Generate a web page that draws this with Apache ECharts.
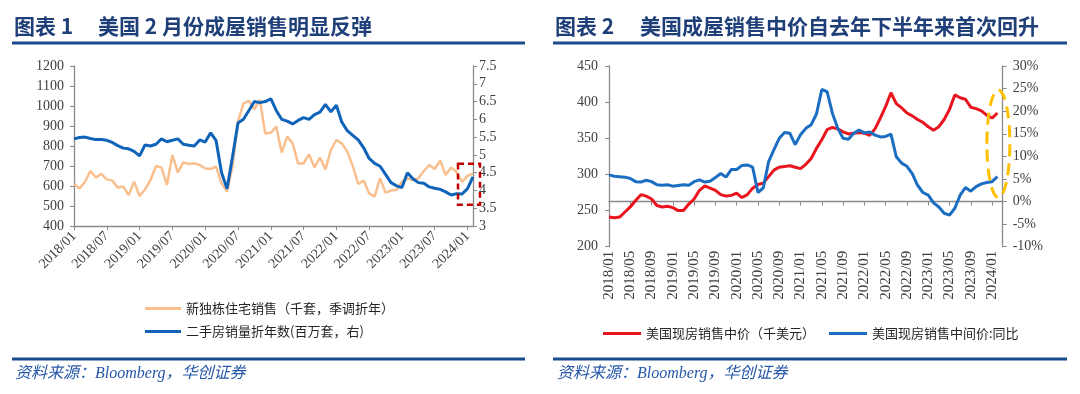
<!DOCTYPE html>
<html><head><meta charset="utf-8">
<script src="https://cdn.jsdelivr.net/npm/echarts@6/dist/echarts.min.js"></script>
<style>html,body{margin:0;padding:0;background:#fff}#c{width:1080px;height:394px}</style>
</head><body><div id="c"></div>
<script>
// ---------- Chart 1 data ----------
const months1 = [
'2018/01','2018/02','2018/03','2018/04','2018/05','2018/06','2018/07','2018/08','2018/09','2018/10','2018/11','2018/12',
'2019/01','2019/02','2019/03','2019/04','2019/05','2019/06','2019/07','2019/08','2019/09','2019/10','2019/11','2019/12',
'2020/01','2020/02','2020/03','2020/04','2020/05','2020/06','2020/07','2020/08','2020/09','2020/10','2020/11','2020/12',
'2021/01','2021/02','2021/03','2021/04','2021/05','2021/06','2021/07','2021/08','2021/09','2021/10','2021/11','2021/12',
'2022/01','2022/02','2022/03','2022/04','2022/05','2022/06','2022/07','2022/08','2022/09','2022/10','2022/11','2022/12',
'2023/01','2023/02','2023/03','2023/04','2023/05','2023/06','2023/07','2023/08','2023/09','2023/10','2023/11','2023/12',
'2024/01','2024/02'];
const newHomeSales = [610,588,620,675,643,660,633,627,592,597,555,622,
550,583,630,700,693,605,755,668,718,710,713,705,
688,685,697,613,572,697,922,1013,1025,985,1030,862,
866,897,767,847,813,713,713,758,693,742,683,780,
830,813,772,700,610,627,563,547,638,567,577,580,
622,638,630,638,675,705,685,728,655,692,670,620,
652,662];
const existingSales = [5.45,5.49,5.5,5.46,5.43,5.43,5.41,5.35,5.26,5.19,5.17,5.1,
4.97,5.28,5.25,5.3,5.45,5.37,5.41,5.45,5.3,5.27,5.25,5.42,
5.36,5.62,5.4,4.5,4.05,4.95,5.9,6.0,6.25,6.5,6.47,6.5,
6.58,6.25,6.0,5.95,5.87,5.97,6.05,6.0,6.13,6.2,6.42,6.21,
6.4,5.92,5.68,5.55,5.42,5.2,4.9,4.76,4.68,4.45,4.22,4.13,
4.08,4.5,4.33,4.22,4.2,4.1,4.06,4.03,3.96,3.87,3.91,3.9,
4.05,4.38];
const leftTicks1 = {min:400, max:1200, interval:100};
const rightTicks1 = {min:3, max:7.5, interval:0.5};

// ---------- Chart 2 data ----------
const months2 = months1.concat(['2024/03']);
const medianPrice = [241,240,241,248,255,264,272,270,266,257,255,256,
254,250,250,259,266,278,284,281,278,272,270,271,
274,268,272,281,286,288,297,306,310,311,312,310,
308,314,322,336,348,362,365,363,359,356,357,358,
357,354,363,378,394,413,398,392,385,381,376,372,
366,361,366,376,390,410,406,404,393,391,388,382,
378,385];
const medianPriceYoY = [5.9,5.6,5.5,5.4,5.1,4.4,4.3,4.7,4.4,3.7,3.6,3.7,
3.4,3.55,3.7,3.6,4.4,4.8,4.3,4.5,5.3,6.2,5.4,7.1,
7.1,8.0,8.1,7.6,2.0,3.0,8.8,11.5,14.0,15.3,15.1,12.6,
14.8,16.2,17.0,19.4,24.8,24.3,19.5,16.2,14.0,13.8,15.1,15.8,
15.2,15.4,14.7,14.3,14.4,14.9,9.9,8.5,7.8,6.2,3.6,2.0,
1.4,-0.3,-1.2,-2.6,-3.0,-1.5,1.4,3.1,2.3,3.3,3.9,4.2,
4.4,5.5];
const leftTicks2 = {min:200, max:450, interval:50};
const rightTicks2 = {min:-10, max:30, interval:5};

const name1a = '新独栋住宅销售（千套，季调折年）';
const name1b = '二手房销量折年数(百万套，右)';
const name2a = '美国现房销售中价（千美元）';
const name2b = '美国现房销售中间价:同比';

const numFont = 'Liberation Serif';
const cjkFont = 'Noto Sans CJK SC';
const axisGray = '#8a8a8a';
const labelColor = '#404040';
const navy = '#1F3F78';
const ruleBlue = '#1B4A8C';

function yAx(gridIndex, pos, t, fmt, margin) {
  return {
    type:'value', gridIndex, position:pos, min:t.min, max:t.max, interval:t.interval,
    axisLine:{show:true, lineStyle:{color:axisGray, width:1.3}},
    axisTick:{show:true, length:4, lineStyle:{color:axisGray}},
    splitLine:{show:false},
    axisLabel:{color:labelColor, fontFamily:numFont, fontSize:14, margin, formatter:fmt}
  };
}

const chart = echarts.init(document.getElementById('c'), null, {renderer:'canvas'});
const option = {
  animation:false,
  backgroundColor:'#ffffff',
  textStyle:{fontFamily:cjkFont},
  grid:[
    {left:74, right:1080-473, top:66, bottom:394-226, containLabel:false},
    {left:609, right:1080-1002.7, top:66, bottom:394-246.7, containLabel:false}
  ],
  xAxis:[
    {type:'category', gridIndex:0, data:months1, boundaryGap:false,
     axisLine:{lineStyle:{color:axisGray, width:1.3}},
     axisTick:{length:4, interval:(i)=>i%6===0, lineStyle:{color:axisGray}},
     axisLabel:{interval:(i)=>i%6===0, rotate:45, color:labelColor, fontFamily:numFont, fontSize:14, margin:8},
     splitLine:{show:false}},
    {type:'category', gridIndex:1, data:months2, boundaryGap:false,
     axisLine:{lineStyle:{color:axisGray, width:1.3}},
     axisTick:{length:4, interval:(i)=>i%4===0, lineStyle:{color:axisGray}},
     axisLabel:{interval:(i)=>i%4===0, rotate:90, color:labelColor, fontFamily:numFont, fontSize:15, margin:4},
     splitLine:{show:false}}
  ],
  yAxis:[
    yAx(0,'left',leftTicks1,(v)=>String(v),10),
    yAx(0,'right',rightTicks1,(v)=>String(v),6),
    yAx(1,'left',leftTicks2,(v)=>String(v),11),
    yAx(1,'right',rightTicks2,(v)=>v+'%',10)
  ],
  legend:[
    {orient:'vertical', left:140, top:297, itemWidth:36, itemHeight:3, itemGap:10, icon:'rect',
     data:[name1a,name1b], textStyle:{fontSize:13, color:'#262626', fontFamily:cjkFont}},
    {orient:'horizontal', left:598, top:322, itemWidth:38, itemHeight:3, itemGap:14, icon:'rect',
     data:[name2a,name2b], textStyle:{fontSize:13, color:'#262626', fontFamily:cjkFont}}
  ],
  series:[
    {name:name1a, type:'line', xAxisIndex:0, yAxisIndex:0, data:newHomeSales, symbol:'none',
     lineStyle:{color:'#F9BF8E', width:2.5}, itemStyle:{color:'#F9BF8E'}},
    {name:name1b, type:'line', xAxisIndex:0, yAxisIndex:1, data:existingSales, symbol:'none',
     lineStyle:{color:'#0F63B8', width:3}, itemStyle:{color:'#0F63B8'}},
    {name:name2a, type:'line', xAxisIndex:1, yAxisIndex:2, data:medianPrice, symbol:'none',
     lineStyle:{color:'#E8151E', width:3}, itemStyle:{color:'#E8151E'}},
    {name:name2b, type:'line', xAxisIndex:1, yAxisIndex:3, data:medianPriceYoY, symbol:'none',
     lineStyle:{color:'#1B6DC2', width:3}, itemStyle:{color:'#1B6DC2'}}
  ]
};
chart.setOption(option);

// annotation shapes placed via the axes
const lastX1 = chart.convertToPixel({xAxisIndex:0}, months1[months1.length-1]);
const boxTop = chart.convertToPixel({yAxisIndex:1}, 4.75);
const boxBot = chart.convertToPixel({yAxisIndex:1}, 3.6);
const lastX2 = chart.convertToPixel({xAxisIndex:1}, months1[months1.length-1]);
const ellTop = chart.convertToPixel({yAxisIndex:3}, 24.7);
const ellBot = chart.convertToPixel({yAxisIndex:3}, 0.9);

const titleStyle = (t,x)=>({type:'text', left:x, top:16, style:{text:t, fill:navy, font:'bold 21px "Noto Sans CJK SC"'}});
const srcStyle = (x)=>({type:'text', left:x, top:366, style:{text:'资料来源：Bloomberg，华创证券', fill:'#2657A8', font:'italic 16px "Liberation Serif", "Noto Sans CJK SC"'}});

chart.setOption({graphic:[
  titleStyle('图表 1', 14), titleStyle('美国 2 月份成屋销售明显反弹', 98),
  titleStyle('图表 2', 555), titleStyle('美国成屋销售中价自去年下半年来首次回升', 640),
  {type:'rect', shape:{x:12, y:41.5, width:513, height:3}, style:{fill:ruleBlue}},
  {type:'rect', shape:{x:553, y:41.5, width:514, height:3}, style:{fill:ruleBlue}},
  {type:'rect', shape:{x:12, y:357.5, width:513, height:3}, style:{fill:ruleBlue}},
  {type:'rect', shape:{x:553, y:357.5, width:514, height:3}, style:{fill:ruleBlue}},
  srcStyle(15), srcStyle(557),
  {type:'rect', z:100, shape:{x:lastX1-15, y:boxTop, width:22, height:boxBot-boxTop},
   style:{fill:'none', stroke:'#C00000', lineWidth:2.5, lineDash:[6,4]}},
  {type:'ellipse', z:100, shape:{cx:lastX2+1, cy:(ellTop+ellBot)/2, rx:11.5, ry:(ellBot-ellTop)/2},
   style:{fill:'none', stroke:'#FFC000', lineWidth:3, lineDash:[12,7]}}
]});
</script></body></html>
